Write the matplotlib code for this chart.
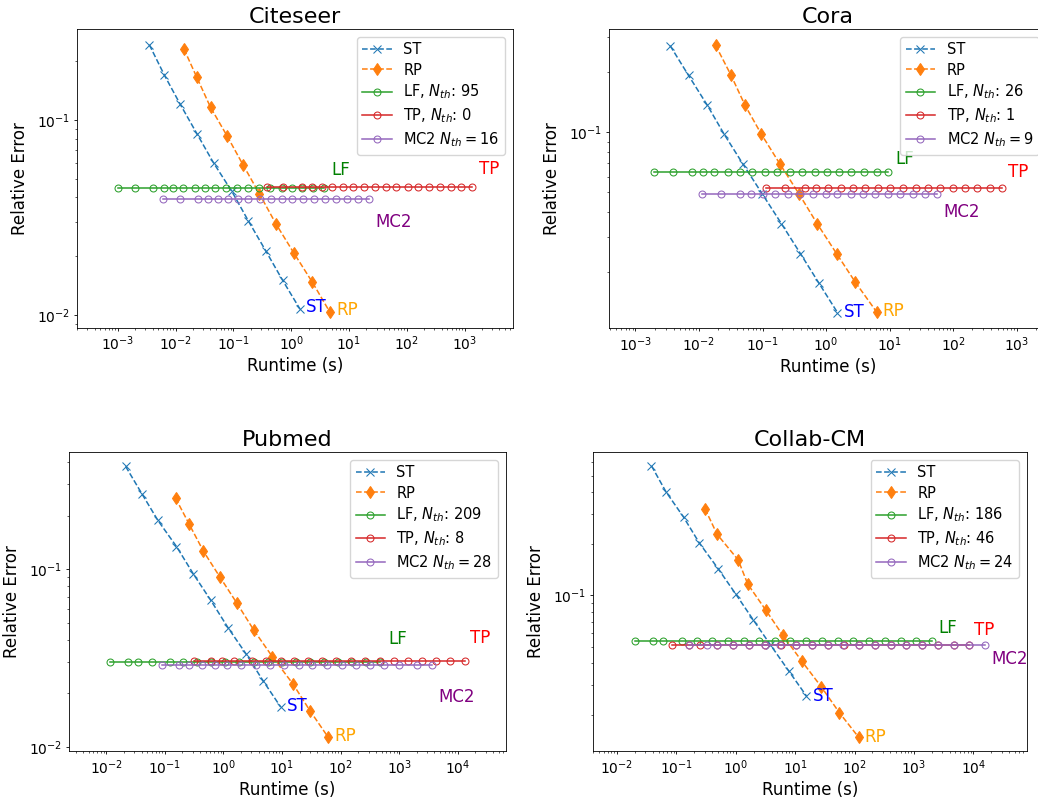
from matplotlib import pyplot as plt

title_sz = 16
axis_label_sz = 12
axis_ticklabel_sz = 10
legend_item_sz = 10.5
curve_label_sz = 12

# thinner strokes / shorter ticks than the 100 dpi defaults
plt.rcParams["lines.linewidth"] = 1.1
plt.rcParams["lines.markeredgewidth"] = 0.75
plt.rcParams["axes.linewidth"] = 0.6
plt.rcParams["axes.labelpad"] = 2.9
plt.rcParams["axes.titlepad"] = 4.3
for a in ("xtick", "ytick"):
    plt.rcParams[a + ".major.size"] = 2.5
    plt.rcParams[a + ".minor.size"] = 1.45
    plt.rcParams[a + ".major.width"] = 0.6
    plt.rcParams[a + ".minor.width"] = 0.45
    plt.rcParams[a + ".major.pad"] = 2.5
    plt.rcParams[a + ".minor.pad"] = 2.5
plt.rcParams["legend.labelspacing"] = 0.35

# ---------------- Citeseer ----------------
cite_st_t = [0.00352, 0.00639, 0.0121, 0.0234, 0.0454, 0.0941, 0.182, 0.363, 0.714, 1.42]
cite_st_err = [0.243, 0.170, 0.120, 0.0850, 0.0602, 0.0430, 0.0303, 0.0213, 0.0150, 0.0107]
cite_rp_t = [0.0140, 0.0234, 0.0403, 0.078, 0.148, 0.282, 0.548, 1.107, 2.29, 4.69]
cite_rp_err = [0.231, 0.165, 0.116, 0.0827, 0.0586, 0.0418, 0.0292, 0.0208, 0.0148, 0.0103]
cite_lf_t = [0.001, 0.00202, 0.00402, 0.00627, 0.00914, 0.0133, 0.0213, 0.0322, 0.0485,
             0.0736, 0.116, 0.182, 0.281, 0.423, 0.681, 1.03, 1.55, 2.38, 3.69]
cite_lf_err = [0.0446] * 19
cite_tp_t = [0.378, 0.733, 1.52, 2.26, 3.37, 5.01, 7.94, 11.8, 18.3, 28.0, 43.3, 66.3,
             103, 156, 239, 371, 573, 877, 1358]
cite_tp_err = [0.0451] * 19
cite_mc2_t = [0.00599, 0.0121, 0.0244, 0.0363, 0.0541, 0.0804, 0.120, 0.182, 0.290, 0.443,
              0.687, 1.047, 1.62, 2.51, 3.84, 5.94, 9.10, 14.4, 22.3]
cite_mc2_err = [0.0395] * 19
cite_nth = ["95", "0", "16"]

# ---------------- Cora ----------------
cora_st_t = [0.00352, 0.00685, 0.0135, 0.0250, 0.0492, 0.0993, 0.198, 0.394, 0.776, 1.51]
cora_st_err = [0.272, 0.193, 0.137, 0.0977, 0.0694, 0.0491, 0.0349, 0.0247, 0.0175, 0.0125]
cora_rp_t = [0.0182, 0.0318, 0.0529, 0.0958, 0.188, 0.376, 0.722, 1.46, 2.90, 6.22]
cora_rp_err = [0.274, 0.194, 0.137, 0.098, 0.0694, 0.0491, 0.0349, 0.0247, 0.0177, 0.0126]
cora_lf_t = [0.00194, 0.00387, 0.00771, 0.0115, 0.0171, 0.0285, 0.0436, 0.0691, 0.108,
             0.171, 0.267, 0.424, 0.663, 1.035, 1.60, 2.51, 3.96, 6.22, 9.46]
cora_lf_err = [0.0630] * 19
cora_tp_t = [0.115, 0.229, 0.461, 0.705, 1.07, 1.70, 2.66, 4.17, 6.59, 10.3, 16.3, 25.6,
             40.5, 61.8, 98.0, 153, 239, 379, 593]
cora_tp_err = [0.0528] * 19
cora_mc2_t = [0.01096, 0.0220, 0.0436, 0.0666, 0.100, 0.160, 0.251, 0.391, 0.620, 0.980,
              1.51, 2.43, 3.78, 5.96, 9.37, 14.8, 23.2, 36.6, 56.5]
cora_mc2_err = [0.0491] * 19
cora_nth = ["26", "1", "9"]

# ---------------- Pubmed ----------------
pub_st_t = [0.0214, 0.0406, 0.0760, 0.158, 0.308, 0.608, 1.20, 2.43, 4.74, 9.48]
pub_st_err = [0.378, 0.265, 0.188, 0.134, 0.0937, 0.0668, 0.0468, 0.0334, 0.0236, 0.0168]
pub_rp_t = [0.152, 0.260, 0.456, 0.867, 1.69, 3.33, 6.84, 15.4, 30.0, 60.8]
pub_rp_err = [0.251, 0.179, 0.126, 0.0905, 0.0645, 0.0452, 0.0322, 0.0226, 0.0160, 0.0114]
pub_lf_t = [0.01156, 0.0237, 0.0351, 0.0594, 0.122, 0.205, 0.357, 0.621, 1.08, 1.88, 3.27,
            5.68, 9.88, 17.2, 29.9, 52.0, 90.4, 157, 273, 475]
pub_lf_err = [0.0300] * 20
pub_tp_t = [0.316, 0.610, 0.938, 1.52, 3.13, 5.27, 9.51, 16.0, 28.2, 48.8, 84.5, 148,
            260, 462, 811, 1426, 2472, 4276, 7499, 13150]
pub_tp_err = [0.0304] * 20
pub_mc2_t = [0.0879, 0.175, 0.260, 0.428, 0.713, 1.17, 2.03, 3.56, 6.24, 10.8, 19.5, 33.0,
             59.4, 104, 180, 312, 547, 986, 2030, 3656]
pub_mc2_err = [0.0289] * 20
pub_nth = ["209", "8", "28"]

# ---------------- Collab-CM ----------------
col_st_t = [0.0380, 0.0665, 0.132, 0.243, 0.503, 1.00, 1.96, 3.80, 7.76, 15.5]
col_st_err = [0.571, 0.403, 0.286, 0.202, 0.143, 0.1014, 0.0718, 0.0514, 0.0361, 0.0257]
col_rp_t = [0.303, 0.484, 1.094, 1.59, 3.21, 6.23, 13.0, 27.3, 55.7, 118]
col_rp_err = [0.320, 0.227, 0.161, 0.116, 0.0816, 0.0581, 0.0410, 0.0292, 0.0205, 0.0147]
col_lf_t = [0.0199, 0.0406, 0.0598, 0.122, 0.220, 0.403, 0.752, 1.35, 2.48, 4.50, 8.29,
            15.3, 28.5, 52.2, 95.1, 175, 325, 600, 1104, 2004]
col_lf_err = [0.0538] * 20
col_tp_t = [0.0830, 0.165, 0.250, 0.490, 0.913, 1.68, 3.10, 5.69, 10.5, 19.3, 35.4, 65.2,
            120, 220, 406, 748, 1374, 2530, 4660, 8550]
col_tp_err = [0.0514] * 20
col_mc2_t = [0.165, 0.324, 0.490, 0.906, 1.67, 3.07, 5.64, 10.4, 19.2, 35.3, 65.0, 120,
             220, 406, 748, 1380, 2540, 4690, 8620, 15880]
col_mc2_err = [0.0514] * 20
col_nth = ["186", "46", "24"]

panels = [
    ("Citeseer", cite_st_t, cite_st_err, cite_rp_t, cite_rp_err, cite_lf_t, cite_lf_err,
     cite_tp_t, cite_tp_err, cite_mc2_t, cite_mc2_err, cite_nth),
    ("Cora", cora_st_t, cora_st_err, cora_rp_t, cora_rp_err, cora_lf_t, cora_lf_err,
     cora_tp_t, cora_tp_err, cora_mc2_t, cora_mc2_err, cora_nth),
    ("Pubmed", pub_st_t, pub_st_err, pub_rp_t, pub_rp_err, pub_lf_t, pub_lf_err,
     pub_tp_t, pub_tp_err, pub_mc2_t, pub_mc2_err, pub_nth),
    ("Collab-CM", col_st_t, col_st_err, col_rp_t, col_rp_err, col_lf_t, col_lf_err,
     col_tp_t, col_tp_err, col_mc2_t, col_mc2_err, col_nth),
]

# axes rectangles in pixels (left, top, right, bottom) of a 1038x798 canvas
W, H = 1038, 798
ax_px = [(77.3, 29.3, 512.7, 327.7),
         (609.3, 29.3, 1046.7, 328.3),
         (69, 452.3, 505.7, 751),
         (593.3, 452.3, 1026.7, 751)]

# curve-name annotations: (x, y) in data units, left aligned, vertically centred
label_pos = [
    {"LF": (4.88, 0.0552), "TP": (1746, 0.0557), "MC2": (28.8, 0.0301),
     "ST": (1.80, 0.0110), "RP": (6.1, 0.01054)},
    {"LF": (12.4, 0.0738), "TP": (741, 0.0635), "MC2": (70, 0.0397),
     "ST": (1.90, 0.0126), "RP": (7.74, 0.0127)},
    {"LF": (649, 0.0406), "TP": (16440, 0.0409), "MC2": (4745, 0.0192),
     "ST": (11.9, 0.0169), "RP": (76.9, 0.01154)},
    {"LF": (2595, 0.0641), "TP": (10400, 0.0627), "MC2": (20400, 0.0421),
     "ST": (19.8, 0.0257), "RP": (147, 0.01486)},
]
label_colors = {"ST": "blue", "RP": "orange", "LF": "green", "TP": "red", "MC2": "purple"}

fig = plt.figure(figsize=(W / 100, H / 100), dpi=100)

for i, p in enumerate(panels):
    (name, st_t, st_e, rp_t, rp_e, lf_t, lf_e, tp_t, tp_e, mc_t, mc_e, nth) = p
    l, t, r, b = ax_px[i]
    ax = fig.add_axes([l / W, 1 - b / H, (r - l) / W, (b - t) / H])

    ax.plot(st_t, st_e, "--", marker="x", color="C0", markersize=5.2, label="ST")
    ax.plot(rp_t, rp_e, "--", marker="d", color="C1", markersize=6, label="RP")
    ax.plot(lf_t, lf_e, "-", marker="o", mfc="none", color="C2", markersize=5,
            label=r"LF, $N_{th}$: " + nth[0])
    ax.plot(tp_t, tp_e, "-", marker="o", mfc="none", color="C3", markersize=5,
            label=r"TP, $N_{th}$: " + nth[1])
    ax.plot(mc_t, mc_e, "-", marker="o", mfc="none", color="C4", markersize=5,
            label=r"MC2 $N_{th}=" + nth[2] + "$")

    ax.set_xscale("log")
    ax.set_yscale("log")
    all_t = st_t + rp_t + lf_t + tp_t + mc_t
    all_e = st_e + rp_e + lf_e + tp_e + mc_e
    ax.set_xlim(min(all_t) / 5, max(all_t) * 5)
    ax.set_ylim(min(all_e) / 1.2, max(all_e) * 1.2)

    for key, (x, y) in label_pos[i].items():
        ax.text(x, y, key, color=label_colors[key], fontsize=curve_label_sz,
                ha="left", va="center")

    ax.set_title(name, fontsize=title_sz)
    ax.set_xlabel("Runtime (s)", fontsize=axis_label_sz)
    ax.set_ylabel("Relative Error", fontsize=axis_label_sz)
    ax.yaxis.set_label_coords(-48 / (r - l), 0.5)
    ax.tick_params(axis="both", which="major", labelsize=axis_ticklabel_sz)
    ax.legend(loc="upper right", fontsize=legend_item_sz)

plt.savefig("out.png", dpi=100)
